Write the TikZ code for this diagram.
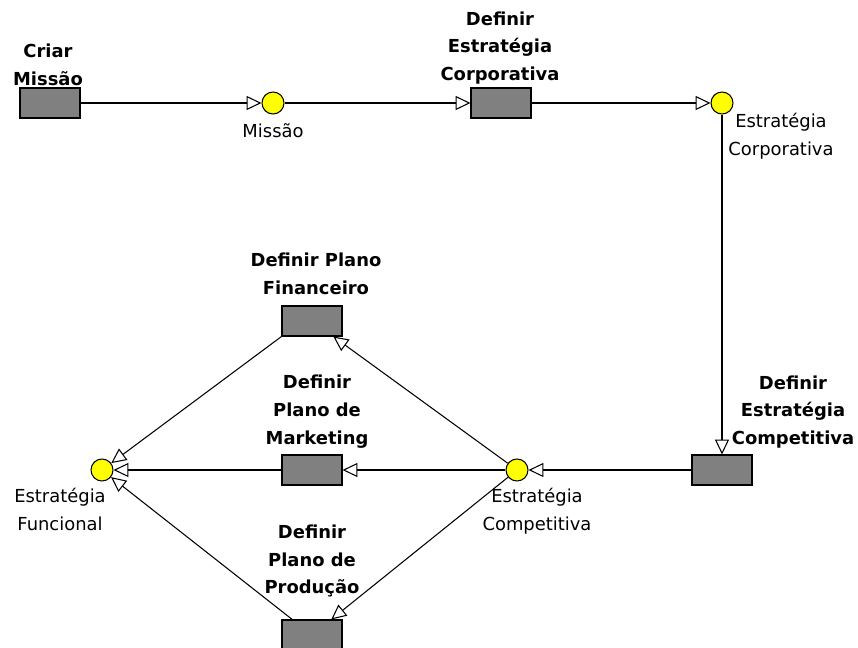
\documentclass[tikz,border=0pt]{standalone}
\usepackage{fontspec}
\setmainfont{DejaVu Sans}
\usepackage{tikz}
\usetikzlibrary{arrows.meta,positioning}
\definecolor{taskgray}{RGB}{128,128,128}
\definecolor{stateyellow}{RGB}{255,255,0}

\begin{document}
\begin{tikzpicture}[
        x=0.02cm,y=-0.02cm,
        task/.style={draw,fill=taskgray,line width=0.6pt,minimum width=1.2cm,
                     minimum height=0.6cm,inner sep=0pt},
        state/.style={draw,circle,fill=stateyellow,line width=0.6pt,
                      minimum size=0.44cm,inner sep=0pt},
        tlbl/.style={font=\fontsize{10.2}{15.9}\selectfont\bfseries,
                     align=center,inner sep=0pt},
        slbl/.style={font=\fontsize{10.2}{15.9}\selectfont,
                     align=center,inner sep=0pt},
        arr/.style={-{Triangle[open,length=8.5pt,width=8pt]},line width=0.6pt},
      ]
        \useasboundingbox (0,0) rectangle (858,648);
        \node[task](cm) at (50,103){};
        \node[state](mi) at (273,103){};
        \node[task](dc) at (501,103){};
        \node[state](ec) at (722,103){};
        \node[task](dk) at (722,470){};
        \node[state](ek) at (517,470){};
        \node[task](df) at (312,321){};
        \node[task](dm) at (312,470){};
        \node[task](dp) at (312,635){};
        \node[state](ef) at (102,470){};
        \node[tlbl](cml) at (48,65){Criar\\Missão};
        \node[slbl](mil) at (273,131){Missão};
        \node[tlbl](dcl) at (500,48){Definir\\Estratégia\\Corporativa};
        \node[slbl](ecl) at (781,136){Estratégia\\Corporativa};
        \node[tlbl](dkl) at (793,412){Definir\\Estratégia\\Competitiva};
        \node[slbl](ekl) at (537,511){Estratégia\\Competitiva};
        \node[tlbl](dfl) at (316,274){Definir Plano\\Financeiro};
        \node[tlbl](dml) at (317,412){Definir\\Plano de\\Marketing};
        \node[tlbl](dpl) at (312,561){Definir\\Plano de\\Produção};
        \node[slbl](efl) at (60,509){Estratégia\\Funcional};
        \draw[arr](cm)--(mi);
        \draw[arr](mi)--(dc);
        \draw[arr](dc)--(ec);
        \draw[arr](ec)--(dk);
        \draw[arr](dk)--(ek);
        \draw[arr](ek)--(df);
        \draw[arr](ek)--(dm);
        \draw[arr](ek)--(dp);
        \draw[arr](df.south west)--(ef);
        \draw[arr](dm)--(ef);
        \draw[arr](dp)--(ef);
      \end{tikzpicture}
\end{document}
